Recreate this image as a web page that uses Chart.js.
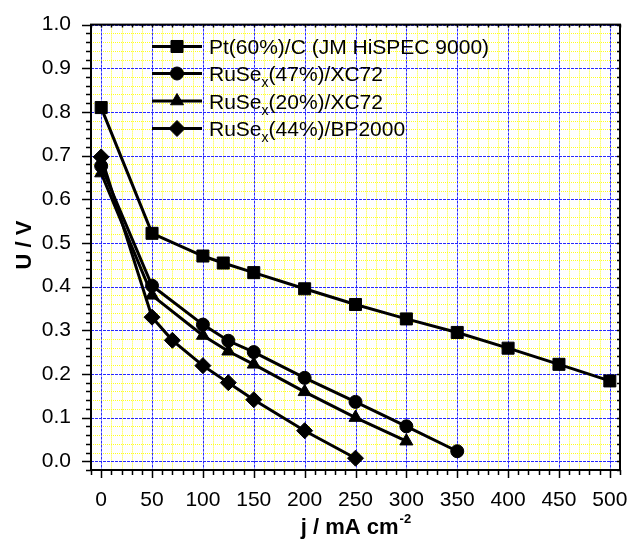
<!DOCTYPE html>
<html lang="en">
<head>
<meta charset="UTF-8">
<title>Polarisation curves</title>
<script src="https://cdn.jsdelivr.net/npm/chart.js"></script>
<style>
  html, body { margin: 0; padding: 0; background: #fff; }
  canvas { display: block; }
</style>
</head>
<body>
<canvas id="polChart" width="630" height="540"></canvas>
<script>
// current density j (mA cm-2) and cell voltage U (V) for each catalyst
const jPt = [0, 50, 100, 120, 150, 200, 250, 300, 350, 400, 450, 500];
const uPt = [0.81, 0.522, 0.470, 0.454, 0.432, 0.395, 0.359, 0.326, 0.295, 0.259, 0.222, 0.184];
const jRu47 = [0, 50, 100, 125, 150, 200, 250, 300, 350];
const uRu47 = [0.676, 0.402, 0.313, 0.276, 0.250, 0.191, 0.136, 0.080, 0.023];
const jRu20 = [0, 50, 100, 125, 150, 200, 250, 300];
const uRu20 = [0.660, 0.380, 0.288, 0.252, 0.222, 0.159, 0.100, 0.046];
const jBp = [0, 50, 70, 100, 125, 150, 200, 250];
const uBp = [0.697, 0.330, 0.277, 0.219, 0.180, 0.141, 0.070, 0.007];

// "_x" marks a subscript x
const seriesNames = ['Pt(60%)/C (JM HiSPEC 9000)', 'RuSe_x(47%)/XC72', 'RuSe_x(20%)/XC72', 'RuSe_x(44%)/BP2000'];
const markers = ['rect', 'circle', 'triangle', 'rectRot'];
const markerSizes = [8.5, 6.5, 7.5, 8];

const xTickLabels = ['0', '50', '100', '150', '200', '250', '300', '350', '400', '450', '500'];
const yTickLabels = ['0.0', '0.1', '0.2', '0.3', '0.4', '0.5', '0.6', '0.7', '0.8', '0.9', '1.0'];

const FONT = "'Liberation Sans', Arial, Helvetica, sans-serif";

function pts(xs, ys) {
    return xs.map((v, i) => ({ x: v, y: ys[i] }));
}

const isMajorX = v => Math.round(v) % 50 === 0;
const isMajorY = v => Math.round(v * 50) % 5 === 0;

// grid, frame, tick marks, axis titles and the legend
const decorations = {
    id: 'decorations',
    beforeDatasetsDraw(chart) {
        const { ctx, chartArea: a, scales: { x, y } } = chart;
        ctx.save();
        ctx.lineWidth = 1;
        // minor grid (yellow dots)
        ctx.strokeStyle = '#ffff20';
        ctx.setLineDash([1, 1]);
        ctx.beginPath();
        x.ticks.forEach(t => {
            if (isMajorX(t.value)) return;
            const px = Math.round(x.getPixelForValue(Math.round(t.value))) + 0.5;
            ctx.moveTo(px, a.top); ctx.lineTo(px, a.bottom);
        });
        y.ticks.forEach(t => {
            if (isMajorY(t.value)) return;
            const py = Math.round(y.getPixelForValue(t.value)) + 0.5;
            ctx.moveTo(a.left, py); ctx.lineTo(a.right, py);
        });
        ctx.stroke();
        // major grid (blue dashes)
        ctx.strokeStyle = '#2828ff';
        ctx.setLineDash([3, 1]);
        ctx.beginPath();
        x.ticks.forEach(t => {
            if (!isMajorX(t.value)) return;
            const px = Math.round(x.getPixelForValue(Math.round(t.value))) + 0.5;
            ctx.moveTo(px, a.top); ctx.lineTo(px, a.bottom);
        });
        y.ticks.forEach(t => {
            if (!isMajorY(t.value)) return;
            const py = Math.round(y.getPixelForValue(t.value)) + 0.5;
            ctx.moveTo(a.left, py); ctx.lineTo(a.right, py);
        });
        ctx.stroke();
        ctx.restore();
    },
    afterDraw(chart) {
        const { ctx, chartArea: a, scales: { x, y } } = chart;
        ctx.save();
        ctx.setLineDash([]);
        ctx.strokeStyle = '#000';
        ctx.fillStyle = '#000';

        // frame
        ctx.lineWidth = 2;
        ctx.strokeRect(a.left, a.top, a.right - a.left, a.bottom - a.top);

        // tick marks
        ctx.lineWidth = 1.5;
        ctx.beginPath();
        x.ticks.forEach(t => {
            const px = Math.round(x.getPixelForValue(Math.round(t.value))) + 0.5;
            const len = isMajorX(t.value) ? 8 : 5;
            ctx.moveTo(px, a.bottom); ctx.lineTo(px, a.bottom + len);
            ctx.moveTo(px, a.top); ctx.lineTo(px, a.top + 3);
        });
        y.ticks.forEach(t => {
            const py = Math.round(y.getPixelForValue(t.value)) + 0.5;
            const len = isMajorY(t.value) ? 9 : 5;
            ctx.moveTo(a.left, py); ctx.lineTo(a.left - len, py);
            ctx.moveTo(a.right, py); ctx.lineTo(a.right - 3, py);
        });
        ctx.stroke();

        // y title
        ctx.font = 'bold 22px ' + FONT;
        ctx.textAlign = 'center';
        ctx.textBaseline = 'alphabetic';
        ctx.save();
        ctx.translate(31, 245);
        ctx.rotate(-Math.PI / 2);
        ctx.fillText('U / V', 0, 0);
        ctx.restore();

        // x title with superscript
        const main = 'j / mA cm';
        const sup = '-2';
        ctx.textAlign = 'left';
        ctx.font = 'bold 22px ' + FONT;
        const wMain = ctx.measureText(main).width;
        ctx.font = 'bold 13px ' + FONT;
        const wSup = ctx.measureText(sup).width;
        let tx = (a.left + a.right) / 2 - (wMain + wSup) / 2;
        ctx.font = 'bold 22px ' + FONT;
        ctx.fillText(main, tx, 534);
        ctx.font = 'bold 13px ' + FONT;
        ctx.fillText(sup, tx + wMain + 1, 523);

        // legend
        const rows = [46.5, 73.5, 101, 128.5];
        seriesNames.forEach((name, i) => {
            const ry = rows[i];
            ctx.lineWidth = 3;
            ctx.beginPath();
            ctx.moveTo(152, ry); ctx.lineTo(202, ry);
            ctx.stroke();
            ctx.lineWidth = 1;
            Chart.helpers.drawPoint(ctx, {
                pointStyle: markers[i], radius: markerSizes[i], rotation: 0, borderWidth: 1
            }, 177, ry);
            const base = ry + 7.5;
            let cx = 209;
            const parts = name.split('_x');
            ctx.font = '21px ' + FONT;
            ctx.fillText(parts[0], cx, base);
            cx += ctx.measureText(parts[0]).width;
            if (parts.length > 1) {
                ctx.font = '14px ' + FONT;
                ctx.fillText('x', cx, base + 6);
                cx += ctx.measureText('x').width;
                ctx.font = '21px ' + FONT;
                ctx.fillText(parts[1], cx, base);
            }
        });
        ctx.restore();
    }
};

const seriesData = [pts(jPt, uPt), pts(jRu47, uRu47), pts(jRu20, uRu20), pts(jBp, uBp)];

new Chart(document.getElementById('polChart'), {
    type: 'line',
    data: {
        datasets: seriesData.map((d, i) => ({
            label: seriesNames[i],
            data: d,
            borderColor: '#000',
            backgroundColor: '#000',
            borderWidth: 3,
            tension: 0,
            fill: false,
            pointStyle: markers[i],
            pointRadius: markerSizes[i],
            pointBackgroundColor: '#000',
            pointBorderColor: '#000',
            pointBorderWidth: 1
        }))
    },
    options: {
        responsive: false,
        animation: false,
        devicePixelRatio: 1,
        layout: { padding: { left: 0, right: 7, top: 22, bottom: 0 } },
        plugins: {
            legend: { display: false },
            tooltip: { enabled: false }
        },
        scales: {
            x: {
                type: 'linear',
                min: -10,
                max: 510,
                afterFit: s => { s.height = 70; },
                grid: { display: false },
                border: { display: false },
                ticks: {
                    stepSize: 10,
                    autoSkip: false,
                    maxRotation: 0,
                    padding: 10,
                    color: '#000',
                    font: { family: FONT, size: 21 },
                    callback: v => (v >= 0 && isMajorX(v)) ? xTickLabels[Math.round(v / 50)] : ''
                }
            },
            y: {
                type: 'linear',
                min: -0.02,
                max: 1.0,
                afterFit: s => { s.width = 91; },
                grid: { display: false },
                border: { display: false },
                ticks: {
                    stepSize: 0.02,
                    autoSkip: false,
                    padding: 12,
                    color: '#000',
                    font: { family: FONT, size: 21 },
                    callback: v => {
                        const k = Math.round(v * 50);
                        return (k >= 0 && k % 5 === 0) ? yTickLabels[k / 5] : '';
                    }
                }
            }
        }
    },
    plugins: [decorations]
});
</script>
</body>
</html>
